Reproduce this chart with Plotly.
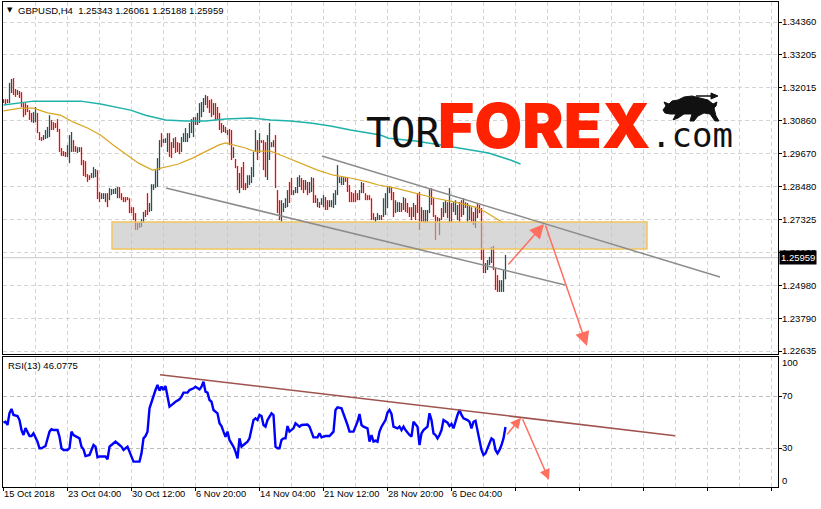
import plotly.graph_objects as go

# ---------------- data ----------------
# H4 bars, prices x 10000 (bar 0 = leftmost bar)
bar_high = [
    13161, 13161, 13161, 13219, 13233, 13236, 13197, 13194, 13190, 13186,
    13147, 13147, 13140, 13122, 13112, 13115, 13133, 13112, 13044, 13026,
    13033, 13051, 13062, 13104, 13087, 13079, 13076, 13090, 13055, 12987,
    12976, 12973, 12997, 13033, 13044, 13015, 12994, 12990, 12990, 12990,
    12944, 12940, 12894, 12890, 12898, 12919, 12912, 12908, 12830, 12826,
    12826, 12826, 12826, 12844, 12841, 12841, 12844, 12848, 12848, 12826,
    12812, 12812, 12812, 12808, 12776, 12776, 12755, 12720, 12723, 12734,
    12759, 12766, 12826, 12791, 12858, 12858, 12908, 12951, 13015, 13040,
    13019, 13022, 13040, 13040, 13008, 13022, 13026, 13008, 13005, 13026,
    13040, 13058, 13040, 13076, 13090, 13097, 13097, 13112, 13147, 13151,
    13165, 13176, 13172, 13158, 13161, 13147, 13147, 13133, 13112, 13076,
    13069, 13062, 13051, 13055, 13051, 12990, 12948, 12923, 12898, 12919,
    12937, 12862, 12890, 12890, 12919, 12973, 13051, 13015, 13040, 13015,
    13015, 13008, 13033, 13076, 13008, 13015, 13033, 12837, 12801, 12801,
    12791, 12808, 12837, 12866, 12880, 12837, 12848, 12883, 12890, 12880,
    12873, 12873, 12866, 12866, 12883, 12880, 12819, 12808, 12794, 12808,
    12819, 12812, 12801, 12801, 12801, 12826, 12837, 12926, 12883, 12883,
    12883, 12883, 12880, 12855, 12830, 12826, 12837, 12826, 12837, 12866,
    12862, 12826, 12819, 12819, 12808, 12755, 12741, 12755, 12748, 12748,
    12808, 12826, 12848, 12851, 12848, 12830, 12801, 12794, 12794, 12791,
    12812, 12808, 12791, 12776, 12776, 12791, 12784, 12826, 12830, 12776,
    12766, 12766, 12766, 12844, 12844, 12808, 12748, 12741, 12737, 12773,
    12794, 12801, 12794, 12844, 12791, 12794, 12801, 12784, 12794, 12801,
    12808, 12794, 12791, 12784, 12776, 12759, 12776, 12791, 12784, 12773,
    12630, 12577, 12588, 12599, 12634, 12638, 12559, 12534, 12516, 12516,
    12552, 12606,
]
bar_low = [
    13147, 13140, 13147, 13147, 13183, 13176, 13169, 13176, 13165, 13133,
    13097, 13104, 13115, 13087, 13079, 13076, 13079, 13040, 13015, 13012,
    13015, 13019, 13022, 13026, 13051, 13051, 13058, 13044, 12973, 12958,
    12958, 12955, 12955, 12933, 12973, 12973, 12973, 12969, 12973, 12926,
    12887, 12883, 12866, 12873, 12880, 12880, 12883, 12805, 12794, 12805,
    12805, 12794, 12776, 12801, 12819, 12823, 12823, 12808, 12808, 12801,
    12794, 12794, 12801, 12755, 12755, 12730, 12695, 12695, 12702, 12705,
    12720, 12741, 12748, 12759, 12762, 12837, 12844, 12848, 12908, 12990,
    13005, 13005, 12973, 12955, 12951, 12987, 12969, 12973, 12965, 12973,
    13008, 13008, 13008, 13022, 13040, 13026, 13069, 13069, 13076, 13097,
    13115, 13140, 13129, 13112, 13097, 13104, 13087, 13087, 13051, 13040,
    13044, 13040, 13033, 12997, 12944, 12951, 12915, 12837, 12826, 12844,
    12837, 12837, 12844, 12855, 12862, 12883, 12973, 12944, 12969, 13005,
    12908, 12883, 12873, 12944, 12990, 12990, 12844, 12755, 12730, 12723,
    12759, 12773, 12776, 12791, 12819, 12819, 12826, 12826, 12848, 12837,
    12826, 12837, 12819, 12826, 12830, 12791, 12791, 12776, 12773, 12784,
    12776, 12766, 12766, 12776, 12776, 12773, 12784, 12819, 12862, 12855,
    12855, 12866, 12830, 12794, 12794, 12794, 12794, 12801, 12801, 12826,
    12826, 12801, 12801, 12801, 12730, 12730, 12723, 12730, 12730, 12730,
    12741, 12748, 12773, 12826, 12801, 12741, 12755, 12759, 12759, 12759,
    12766, 12759, 12755, 12741, 12730, 12741, 12730, 12755, 12695, 12723,
    12723, 12720, 12723, 12755, 12784, 12741, 12659, 12723, 12677, 12730,
    12741, 12755, 12737, 12723, 12720, 12759, 12748, 12730, 12723, 12741,
    12748, 12773, 12723, 12730, 12723, 12713, 12702, 12737, 12755, 12588,
    12541, 12541, 12552, 12570, 12577, 12552, 12481, 12474, 12474, 12474,
    12474, 12519,
]
# u = bullish (dark) bar, d = bearish (red) bar
bar_dir = "".join([
    "ddduuddudd", "ddddduuddd", "uuuudddddd", "dduuudduud", "dddduuuddu",
    "uuduuuuudd", "dddddddduu", "udduuuuuud", "uuuddudddu", "uuuuuuduuu",
    "uudddudddd", "ududduddud", "dduuuuudud", "dduududddu", "uuudduuuud",
    "duduuddudu", "udduuuuuuu", "uddddddduu", "dddddduuud", "uuuudduuud",
    "uddddudddu", "duuuddddud", "uududuuudd", "uduudduddd", "duuuuddduu",
    "uu",
])
PRICE_SCALE = 10000.0

# moving averages (bar position, price)
ma_fast_bar = [0, 8.5, 15, 22, 28.5, 35, 42, 48.5, 55, 61, 67.5, 74.5, 81, 87.5,
               94.5, 101, 107.5, 111, 116, 121, 125, 133.5, 138.5, 148.5, 157,
               165, 173.5, 182, 187.5, 196, 206, 216, 226, 236, 241, 246, 250]
ma_fast_val = [1.3119, 1.3129, 1.3129, 1.3112, 1.3104, 1.3079, 1.3058, 1.3033,
               1.2997, 1.2965, 1.2933, 1.2908, 1.2919, 1.2930, 1.2951, 1.2973,
               1.2997, 1.3005, 1.2997, 1.2987, 1.2976, 1.2976, 1.2962, 1.2933,
               1.2908, 1.2890, 1.2880, 1.2866, 1.2855, 1.2844, 1.2826, 1.2808,
               1.2794, 1.2776, 1.2759, 1.2737, 1.2720]
ma_slow_bar = [0, 15, 28.5, 38.5, 48.5, 63.5, 71, 81, 91, 101, 111, 123.5, 133.5,
               143.5, 153.5, 163.5, 173.5, 188.5, 192.5, 206, 219.5, 232.5,
               242.5, 253.5, 258.5]
ma_slow_val = [1.3140, 1.3154, 1.3154, 1.3154, 1.3144, 1.3122, 1.3104, 1.3087,
               1.3083, 1.3083, 1.3090, 1.3094, 1.3087, 1.3083, 1.3076, 1.3065,
               1.3051, 1.3033, 1.3022, 1.3012, 1.2997, 1.2980, 1.2969, 1.2944,
               1.2930]

# RSI(13)
rsi_bar = [0, 1, 2, 3, 4, 5, 7, 8, 9, 10, 11, 13, 14, 15, 17, 18, 19, 21, 23, 24,
           25, 27, 28, 29, 30, 32, 33, 34, 35, 37, 38, 39, 40, 41, 43, 44, 45, 46,
           47, 48, 50, 51, 52, 53, 54, 56, 58, 59, 60, 62, 63, 64, 65, 67, 68, 69,
           70, 71, 72, 73, 74, 75, 76, 77, 78, 79, 80, 81, 82, 83, 84, 86, 88, 89,
           90, 92, 93, 95, 96, 98, 99, 100, 101, 102, 103, 104, 105, 107, 108,
           109, 110, 111, 112, 113, 114, 115, 116, 117, 118, 119, 120, 122, 123,
           124, 125, 126, 127, 128, 129, 130, 131, 132, 133, 134, 135, 136, 137,
           138, 139, 140, 141, 142, 143, 144, 145, 146, 148, 149, 152, 153, 155,
           157, 158, 159, 161, 163, 165, 166, 167, 169, 170, 172, 173, 175, 177,
           178, 179, 180, 182, 183, 184, 185, 186, 187, 188, 189, 191, 192, 193,
           194, 195, 197, 198, 199, 200, 201, 203, 204, 205, 207, 208, 209, 210,
           212, 213, 214, 215, 216, 217, 218, 219, 220, 222, 223, 224, 225, 227,
           228, 229, 230, 232, 233, 234, 235, 236, 237, 239, 240, 241, 243, 244,
           245, 246, 247, 248, 249, 250, 251]
rsi_val = [49.5, 50.2, 47.7, 56.9, 60.0, 55.4, 54.6, 51.5, 43.8, 40.0, 45.4, 39.2,
           39.2, 41.3, 34.9, 29.8, 29.8, 31.5, 42.6, 44.4, 43.8, 43.8, 38.7, 29.8,
           28.5, 28.5, 29.8, 42.6, 40.0, 38.2, 37.4, 31.0, 29.0, 23.8, 24.6, 28.5,
           32.3, 31.0, 22.8, 23.5, 23.8, 23.5, 21.3, 31.0, 32.3, 34.9, 32.3, 31.0,
           28.5, 31.0, 27.2, 22.8, 19.5, 19.5, 19.5, 25.9, 37.4, 39.2, 42.6, 60.5,
           65.6, 69.5, 74.6, 78.5, 74.1, 77.2, 74.6, 77.7, 70.8, 61.8, 63.0, 65.6,
           67.4, 69.5, 72.6, 72.6, 74.6, 75.9, 77.2, 75.1, 77.2, 81.0, 73.3, 72.6,
           66.9, 65.6, 59.2, 56.7, 49.0, 46.9, 42.6, 38.7, 42.6, 36.2, 33.6, 31.0,
           27.2, 22.0, 37.4, 31.0, 32.3, 34.9, 37.4, 43.8, 51.5, 52.8, 51.5, 55.4,
           54.6, 47.7, 46.4, 51.5, 54.6, 56.7, 55.4, 31.0, 29.8, 29.8, 36.2, 37.4,
           37.4, 46.9, 42.6, 43.8, 45.1, 49.0, 46.4, 47.7, 48.0, 46.4, 38.2, 38.2,
           41.3, 38.2, 39.2, 39.2, 42.6, 59.2, 61.3, 60.5, 56.7, 47.7, 42.6, 42.6,
           50.2, 56.2, 47.7, 46.4, 45.1, 34.9, 40.0, 34.9, 35.7, 34.9, 42.6, 46.4,
           51.5, 57.2, 59.2, 56.2, 46.4, 45.1, 46.4, 43.8, 46.4, 43.8, 40.0, 38.7,
           50.2, 46.4, 32.3, 41.3, 43.8, 46.4, 56.7, 51.5, 41.3, 40.0, 37.4, 40.0,
           43.8, 51.5, 49.5, 46.9, 48.5, 45.1, 55.4, 59.2, 55.4, 52.8, 51.5, 50.2,
           45.1, 50.2, 51.0, 43.8, 28.5, 24.6, 25.9, 33.6, 37.4, 36.2, 28.5, 25.9,
           28.5, 32.3, 37.4, 46.1]

price_ticks = [1.34360, 1.33205, 1.32015, 1.30860, 1.29670, 1.28480, 1.27325,
               1.26135, 1.24980, 1.23790, 1.22635]
last_price = 1.25959
rsi_ticks = [30, 70]
date_labels = ["15 Oct 2018", "23 Oct 04:00", "30 Oct 12:00", "6 Nov 20:00",
               "14 Nov 04:00", "21 Nov 12:00", "28 Nov 20:00", "6 Dec 04:00"]
date_label_bars = [0, 32, 64, 96, 128, 160, 192, 224]
grid_bars = list(range(16, 390, 16))
title_text = "GBPUSD,H4  1.25343 1.26061 1.25188 1.25959"
rsi_text = "RSI(13) 46.0775"

# ---------------- figure ----------------
assert len(bar_high) == len(bar_low) == len(bar_dir)
assert len(rsi_bar) == len(rsi_val)

W, H = 821, 509
ML, MR, MT, MB = 3, 43, 2, 22
PW, PH = W - ML - MR, H - MT - MB


def px(x, y):
    """pixel position -> paper coordinates (for the decorative logo only)"""
    return (x - ML) / PW, (H - MB - y) / PH


up_x, up_y, dn_x, dn_y = [], [], [], []
for i, (h, l, d) in enumerate(zip(bar_high, bar_low, bar_dir)):
    xs, ys = (up_x, up_y) if d == "u" else (dn_x, dn_y)
    xs += [i, i, None]
    ys += [h / PRICE_SCALE, l / PRICE_SCALE, None]

FONT = "Liberation Sans"
FS = 9.5
GRID = "#D4D4D4"
DASH = "4px,3px"

fig = go.Figure()
fig.add_trace(go.Scatter(x=dn_x, y=dn_y, mode="lines", line=dict(color="#FF0000", width=1.3),
                         hoverinfo="skip", xaxis="x", yaxis="y"))
fig.add_trace(go.Scatter(x=up_x, y=up_y, mode="lines", line=dict(color="#2F4F4F", width=1.3),
                         hoverinfo="skip", xaxis="x", yaxis="y"))
fig.add_trace(go.Scatter(x=ma_slow_bar, y=ma_slow_val, mode="lines",
                         line=dict(color="#20B2AA", width=1.5), xaxis="x", yaxis="y"))
fig.add_trace(go.Scatter(x=ma_fast_bar, y=ma_fast_val, mode="lines",
                         line=dict(color="#DAA520", width=1.2), xaxis="x", yaxis="y"))
fig.add_trace(go.Scatter(x=rsi_bar, y=rsi_val, mode="lines",
                         line=dict(color="#0000FF", width=2.4), xaxis="x2", yaxis="y2"))

xr = [-0.25, 387.25]
P_LO, P_HI = 1.225281, 1.350728

# bull icon of the logo (decoration, pixel outline)
bull_px = [(665, 113), (663, 110), (666, 106), (664, 102), (669, 104), (672, 101),
           (678, 100), (684, 97), (692, 96), (700, 98), (708, 100), (713, 104),
           (717, 102), (716, 106), (714, 108), (716, 116), (719, 121), (715, 121),
           (710, 114), (704, 113), (698, 116), (694, 121), (690, 121), (692, 114),
           (684, 114), (678, 118), (673, 120), (676, 114), (670, 114)]
bull_path = "M " + " L ".join("%.5f,%.5f" % px(a, b) for a, b in bull_px) + " Z"
ah = [(711, 93), (718, 96), (711, 99)]
bull_arrow = "M " + " L ".join("%.5f,%.5f" % px(a, b) for a, b in ah) + " Z"
a0, a1 = px(696, 96), px(713, 96)

shapes = [
    # support zone
    dict(type="rect", xref="x", yref="y", x0=54.25, x1=321.75, y0=1.26270, y1=1.27232,
         fillcolor="rgba(190,190,190,0.6)", line=dict(color="#F2C55C", width=1.5), layer="above"),
    # descending channel
    dict(type="line", xref="x", yref="y", x0=159.25, y0=1.29584, x1=358.25, y1=1.25272,
         line=dict(color="#8C8C8C", width=1.5), layer="above"),
    dict(type="line", xref="x", yref="y", x0=81.25, y0=1.28444, x1=280.75, y1=1.24989,
         line=dict(color="#8C8C8C", width=1.5), layer="above"),
    # last price line
    dict(type="line", xref="x domain", yref="y", x0=0, x1=1, y0=last_price, y1=last_price,
         line=dict(color="#C8C8C8", width=1), layer="below"),
    # RSI trend line
    dict(type="line", xref="x2", yref="y2", x0=78.25, y0=86.4, x1=335.75, y1=39.5,
         line=dict(color="#A0524E", width=1.5), layer="above"),
    # logo bull
    dict(type="path", xref="paper", yref="paper", path=bull_path, fillcolor="#111111",
         line=dict(color="#111111", width=1), layer="above"),
    dict(type="line", xref="paper", yref="paper", x0=a0[0], y0=a0[1], x1=a1[0], y1=a1[1],
         line=dict(color="#111111", width=1.5), layer="above"),
    dict(type="path", xref="paper", yref="paper", path=bull_arrow, fillcolor="#111111",
         line=dict(color="#111111", width=1), layer="above"),
]

ARROW = "#FF6E5F"
annotations = []


def arrow(xref, yref, x0, y0, x1, y1, size):
    annotations.append(dict(x=x1, y=y1, ax=x0, ay=y0, xref=xref, yref=yref,
                            axref=xref, ayref=yref, text="", showarrow=True,
                            arrowhead=2, arrowsize=size, arrowwidth=1.5,
                            arrowcolor=ARROW, standoff=0, startstandoff=0))


arrow("x", "y", 251.75, 1.25664, 270.25, 1.27161, 1.9)
arrow("x", "y", 270.75, 1.27161, 291.75, 1.22813, 1.9)
arrow("x2", "y2", 251.25, 39.5, 258.75, 53.3, 1.4)
arrow("x2", "y2", 259.25, 53.3, 272.75, 5.6, 1.4)

# date labels, left aligned at their grid line
for lab, b in zip(date_labels, date_label_bars):
    annotations.append(dict(x=b, y=0, xref="x2", yref="paper", text=lab, showarrow=False,
                            xanchor="left", yanchor="top", yshift=-1, xshift=-1, borderpad=0,
                            font=dict(family=FONT, size=9.3, color="black")))

# RSI 100 / 0 labels
for v, t in [(95.6, "100"), (4.8, "0")]:
    annotations.append(dict(x=1, y=v, xref="paper", yref="y2", text=t, showarrow=False,
                            xanchor="left", yanchor="middle", xshift=3, borderpad=0,
                            font=dict(family=FONT, size=FS, color="black")))

# current price box
annotations.append(dict(x=1, y=last_price, xref="paper", yref="y", text="1.25959",
                        showarrow=False, xanchor="left", yanchor="middle", xshift=1,
                        bgcolor="black", borderpad=1,
                        font=dict(family=FONT, size=FS, color="white")))

# titles
annotations.append(dict(x=0, y=1, xref="paper", yref="paper", text="\u25BC", showarrow=False,
                        xanchor="left", yanchor="top", xshift=3, yshift=-3, borderpad=0,
                        font=dict(family="DejaVu Sans", size=7, color="black")))
annotations.append(dict(x=0, y=1, xref="paper", yref="paper", text=title_text, showarrow=False,
                        xanchor="left", yanchor="top", xshift=14, yshift=-2, borderpad=0,
                        font=dict(family=FONT, size=FS, color="black")))
annotations.append(dict(x=0, y=(H - MB - 357) / PH, xref="paper", yref="paper", text=rsi_text,
                        showarrow=False, xanchor="left", yanchor="top", xshift=4, yshift=-2,
                        borderpad=0, font=dict(family=FONT, size=FS, color="black")))

# logo
tx, ty = px(365, 133)
annotations.append(dict(x=tx, y=ty, xref="paper", yref="paper", text="TOR",
                        showarrow=False, xanchor="left", yanchor="middle", borderpad=0,
                        font=dict(family="DejaVu Sans Mono", size=41, color="#111111")))
fx, fy = px(437, 125.5)
annotations.append(dict(x=fx, y=fy, xref="paper", yref="paper", text="FOREX",
                        showarrow=False, xanchor="left", yanchor="middle", borderpad=0,
                        font=dict(family="Inter", size=62, color="#FF2200", weight=900)))
cx, cy = px(650, 135)
annotations.append(dict(x=cx, y=cy, xref="paper", yref="paper", text=".com",
                        showarrow=False, xanchor="left", yanchor="middle", borderpad=0,
                        font=dict(family="DejaVu Sans Mono", size=34, color="#111111")))

axis_common = dict(showline=True, mirror=True, linecolor="black", linewidth=1,
                   zeroline=False, fixedrange=True)

main_bottom = (H - MB - 354) / PH
rsi_top = (H - MB - 357) / PH

fig.update_layout(
    width=W, height=H,
    margin=dict(l=ML, r=MR, t=MT, b=MB, pad=0),
    paper_bgcolor="white", plot_bgcolor="white",
    showlegend=False,
    font=dict(family=FONT, size=FS, color="black"),
    xaxis=dict(domain=[0, 1], anchor="y", range=xr, tickmode="array", tickvals=grid_bars,
               showticklabels=False, ticks="", showgrid=True, gridcolor=GRID,
               griddash=DASH, gridwidth=1, **axis_common),
    yaxis=dict(domain=[main_bottom, 1], anchor="x", range=[P_LO, P_HI], side="right",
               tickmode="array", tickvals=price_ticks,
               ticktext=[f"{p:.5f}" for p in price_ticks],
               ticks="outside", ticklen=3, tickcolor="black", ticklabelstandoff=-2,
               showgrid=True, gridcolor=GRID, griddash=DASH, **axis_common),
    xaxis2=dict(domain=[0, 1], anchor="y2", range=xr, tickmode="array",
                tickvals=[b for b in range(0, 390, 32)], showticklabels=False,
                ticks="outside", ticklen=3, tickcolor="black", showgrid=False,
                minor=dict(tickmode="array", tickvals=grid_bars, showgrid=True,
                           gridcolor=GRID, griddash=DASH, ticks=""),
                **axis_common),
    yaxis2=dict(domain=[0, rsi_top], anchor="x2", range=[0, 100], side="right",
                tickmode="array", tickvals=rsi_ticks, ticks="outside", ticklen=3,
                tickcolor="black", ticklabelstandoff=-2, showgrid=True,
                gridcolor="#BDBDBD", griddash=DASH, **axis_common),
    shapes=shapes,
    annotations=annotations,
)

fig.write_html("out.html", config={"displayModeBar": False},
               post_script="document.body.style.margin='0px';document.body.style.padding='0px';")
